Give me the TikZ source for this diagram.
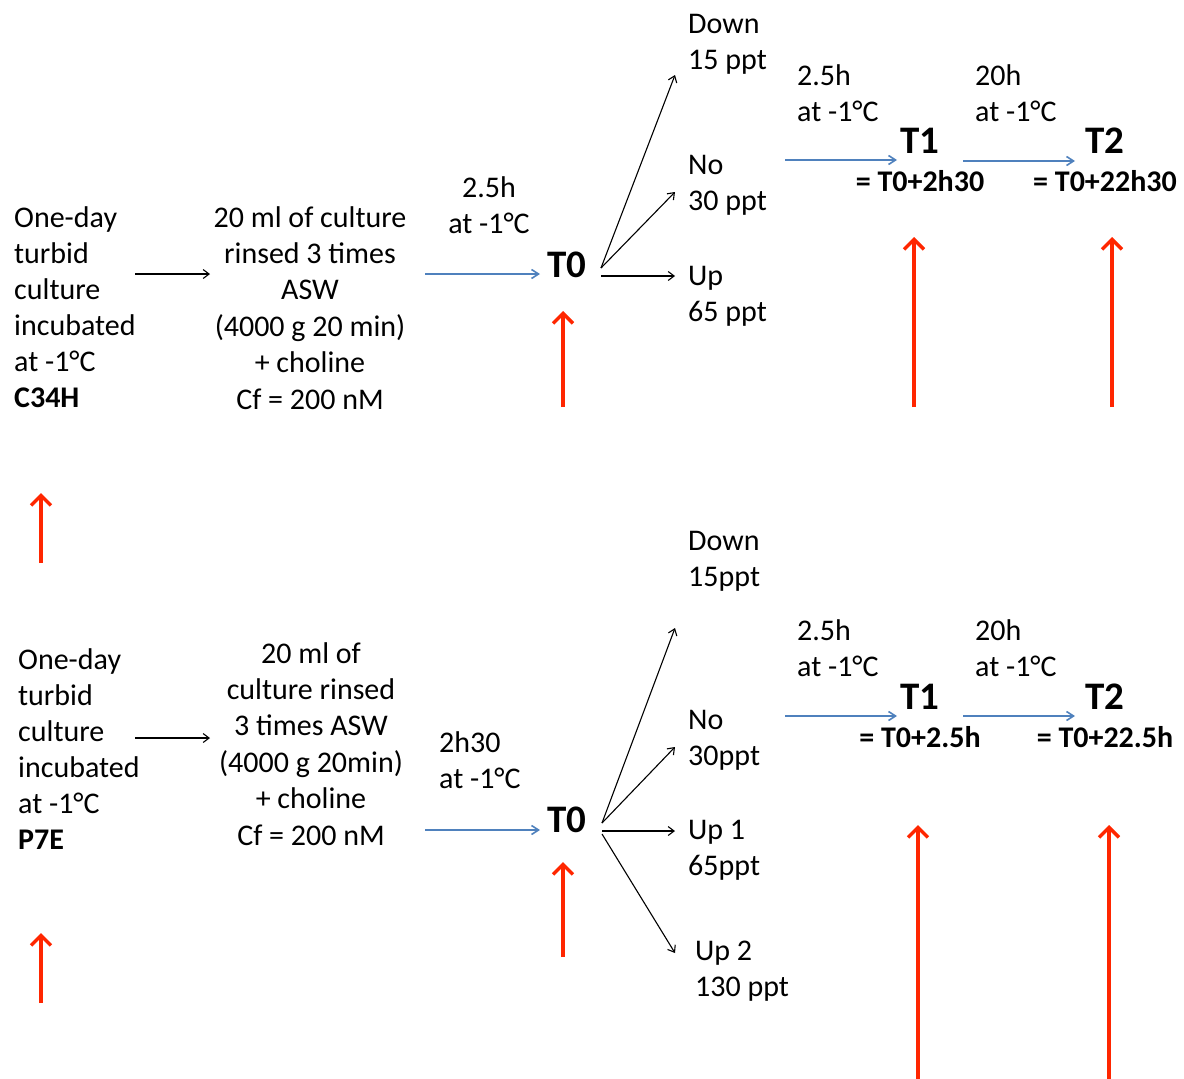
\documentclass[tikz,border=0pt]{standalone}
\usepackage{fontspec}
\setmainfont{Carlito}
\usetikzlibrary{arrows.meta}
\definecolor{ablue}{RGB}{79,129,189}
\definecolor{ared}{RGB}{255,38,0}
\begin{document}
\begin{tikzpicture}[x=1pt,y=-1pt,
  txt/.style={inner sep=0pt, font=\fontsize{30}{36}\selectfont},
  txtb/.style={inner sep=0pt, font=\fontsize{30}{36.4}\selectfont},
  bigT/.style={inner sep=0pt, font=\fontsize{39}{44}\selectfont\bfseries},
  eqT/.style={inner sep=0pt, font=\fontsize{30}{34}\selectfont\bfseries},
  blk/.style={draw=black, line width=1.1pt, -{Straight Barb[length=6pt,width=9pt]}},
  blu/.style={draw=ablue, line width=1.6pt, -{Straight Barb[length=7pt,width=9pt]}},
  red/.style={draw=ared, line width=3.4pt, -{Straight Barb[length=10pt,width=20pt,line width=3.4pt]}}]
\useasboundingbox (0,0) rectangle (1184,1079);

% ---------------- top row ----------------
% (base anchor of a multi-line node = baseline of its last line)
\node[txt, align=left, anchor=base west] (tsrc) at (14,407) {One-day\\turbid\\culture\\incubated\\at -1°C\\\textbf{C34H}};
\node[txtb, align=center, anchor=base] (tprep) at (310,409) {20 ml of culture\\rinsed 3 times\\ASW\\(4000 g 20 min)\\+ choline\\Cf = 200 nM};
\node[txt, align=center, anchor=base] (tl0) at (489,233) {2.5h\\at -1°C};
\node[bigT, anchor=base] (tT0) at (567,277) {T0};
\node[txt, align=left, anchor=base west] (tdown) at (688,69) {Down\\15 ppt};
\node[txt, align=left, anchor=base west] (tno) at (688,210) {No\\30 ppt};
\node[txt, align=left, anchor=base west] (tup) at (688,321) {Up\\65 ppt};
\node[txt, align=left, anchor=base west] (tl1) at (797,121) {2.5h\\at -1°C};
\node[txt, align=left, anchor=base west] (tl2) at (975,121) {20h\\at -1°C};
\node[bigT, anchor=base] (tT1) at (920,153) {T1};
\node[bigT, anchor=base] (tT2) at (1105,153) {T2};
\node[eqT, anchor=base] (teq1) at (920,191) {= T0+2h30};
\node[eqT, anchor=base] (teq2) at (1105,191) {= T0+22h30};

\coordinate (ta1s) at (135,274); \coordinate (ta1e) at (210,274);
\coordinate (tb1s) at (425,274); \coordinate (tb1e) at (540,274);
\coordinate (tfork) at (601,268);
\coordinate (tdE) at (675,75); \coordinate (tnE) at (675,192);
\coordinate (tuS) at (601,276); \coordinate (tuE) at (675,276);
\coordinate (tb2s) at (785,160); \coordinate (tb2e) at (897,160);
\coordinate (tb3s) at (963,161); \coordinate (tb3e) at (1075,161);
\coordinate (tr0s) at (563,407); \coordinate (tr0e) at (563,311);
\coordinate (tr1s) at (914,407); \coordinate (tr1e) at (914,237);
\coordinate (tr2s) at (1112,407); \coordinate (tr2e) at (1112,237);

\draw[blk] (ta1s) -- (ta1e);
\draw[blu] (tb1s) -- (tb1e);
\draw[blk] (tfork) -- (tdE);
\draw[blk] (tfork) -- (tnE);
\draw[blk] (tuS) -- (tuE);
\draw[blu] (tb2s) -- (tb2e);
\draw[blu] (tb3s) -- (tb3e);
\draw[red] (tr0s) -- (tr0e);
\draw[red] (tr1s) -- (tr1e);
\draw[red] (tr2s) -- (tr2e);

% middle red arrow
\coordinate (mrs) at (41,563); \coordinate (mre) at (41,493);
\draw[red] (mrs) -- (mre);

% ---------------- bottom row ----------------
\node[txt, align=left, anchor=base west] (bsrc) at (18,849) {One-day\\turbid\\culture\\incubated\\at -1°C\\\textbf{P7E}};
\node[txtb, align=center, anchor=base] (bprep) at (311,845) {20 ml of\\culture rinsed\\3 times ASW\\(4000 g 20min)\\+ choline\\Cf = 200 nM};
\node[txt, align=left, anchor=base west] (bl0) at (439,788) {2h30\\at -1°C};
\node[bigT, anchor=base] (bT0) at (567,832) {T0};
\node[txt, align=left, anchor=base west] (bdown) at (688,586) {Down\\15ppt};
\node[txt, align=left, anchor=base west] (bno) at (688,765) {No\\30ppt};
\node[txt, align=left, anchor=base west] (bup1) at (688,875) {Up 1\\65ppt};
\node[txt, align=left, anchor=base west] (bup2) at (695,996) {Up 2\\130 ppt};
\node[txt, align=left, anchor=base west] (bl1) at (797,676) {2.5h\\at -1°C};
\node[txt, align=left, anchor=base west] (bl2) at (975,676) {20h\\at -1°C};
\node[bigT, anchor=base] (bT1) at (920,709) {T1};
\node[bigT, anchor=base] (bT2) at (1105,709) {T2};
\node[eqT, anchor=base] (beq1) at (920,747) {= T0+2.5h};
\node[eqT, anchor=base] (beq2) at (1105,747) {= T0+22.5h};

\coordinate (ba1s) at (135,738); \coordinate (ba1e) at (210,738);
\coordinate (bb1s) at (425,830); \coordinate (bb1e) at (540,830);
\coordinate (bfork) at (602,823);
\coordinate (bdE) at (675,628); \coordinate (bnE) at (675,747);
\coordinate (bu1S) at (602,831); \coordinate (bu1E) at (675,831);
\coordinate (bu2S) at (602,834); \coordinate (bu2E) at (675,953);
\coordinate (bb2s) at (785,716); \coordinate (bb2e) at (897,716);
\coordinate (bb3s) at (963,716); \coordinate (bb3e) at (1075,716);
\coordinate (br0s) at (563,957); \coordinate (br0e) at (563,862);
\coordinate (br1s) at (918,1079); \coordinate (br1e) at (918,825);
\coordinate (br2s) at (1109,1079); \coordinate (br2e) at (1109,825);
\coordinate (blrs) at (41,1003); \coordinate (blre) at (41,933);

\draw[blk] (ba1s) -- (ba1e);
\draw[blu] (bb1s) -- (bb1e);
\draw[blk] (bfork) -- (bdE);
\draw[blk] (bfork) -- (bnE);
\draw[blk] (bu1S) -- (bu1E);
\draw[blk] (bu2S) -- (bu2E);
\draw[blu] (bb2s) -- (bb2e);
\draw[blu] (bb3s) -- (bb3e);
\draw[red] (br0s) -- (br0e);
\draw[red] (br1s) -- (br1e);
\draw[red] (br2s) -- (br2e);
\draw[red] (blrs) -- (blre);
\end{tikzpicture}
\end{document}
